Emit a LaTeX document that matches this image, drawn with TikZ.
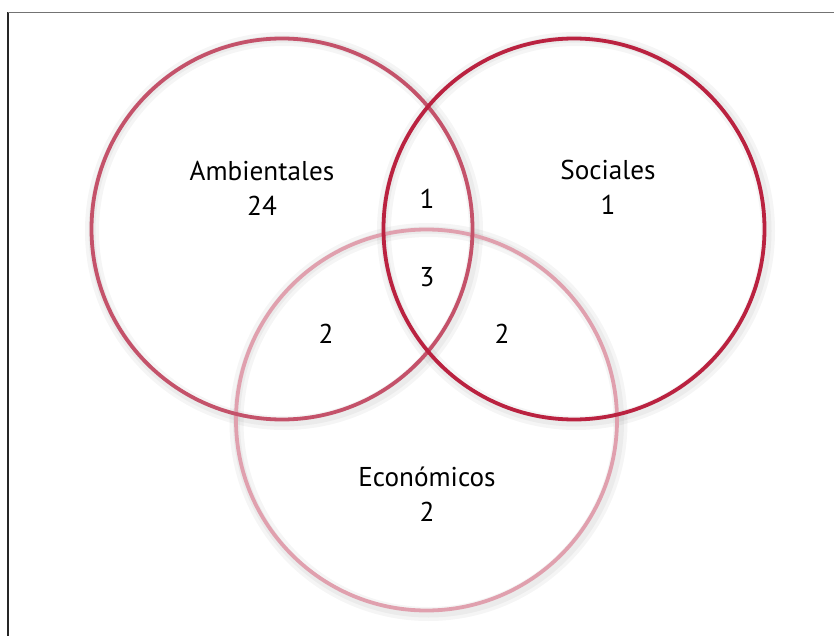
\documentclass[tikz,border=0pt]{standalone}
\usepackage{fontspec}
\setmainfont{PT Sans}
\usetikzlibrary{positioning}
\definecolor{ambred}{RGB}{196,82,106}
\definecolor{socred}{RGB}{186,34,64}
\definecolor{ecopink}{RGB}{224,160,174}
\tikzset{every picture/.style={/utils/exec={\fontsize{27.3}{35}\selectfont}}}

\begin{document}
\begin{tikzpicture}[x=1bp, y=-1bp]
  \tikzstyle{setcircle} = [circle, minimum size=381bp, inner sep=0pt, line width=3.8bp]
  \tikzstyle{shade} = [circle, minimum size=384bp, inner sep=0pt, draw=black, draw opacity=0.04, xshift=2bp, yshift=-2bp]
  \tikzstyle{label} = [align=center, inner sep=0pt]

  \useasboundingbox (0,0) rectangle (834,636);
  \fill[white] (0,0) rectangle (834,636);

  % frame, only left and top sides visible
  \coordinate (frametl) at (8,12.5);
  \coordinate (framebl) at (8,636);
  \coordinate (frametr) at (834,12.5);
  \draw [black!85, line width=1.3bp] (framebl) -- (frametl);
  \draw [black!55, line width=1.6bp] (frametl) -- (frametr);

  % soft shadows under the rings
  \foreach \pos/\tag in {{(426.5,420)}/eco, {(282,229)}/amb, {(574,229)}/soc} {
    \node (\tag wide) [shade, line width=14bp] at \pos {};
    \node (\tag narrow) [shade, line width=7bp] at \pos {};
  }

  \node (eco) [setcircle, draw=ecopink] at (426.5,420) {};
  \node (amb) [setcircle, draw=ambred] at (282,229) {};
  \node (soc) [setcircle, draw=socred] at (574,229) {};

  \node (ambtext) [label] at (262,188) {Ambientales\\24};
  \node (soctext) [label] at (608,187) {Sociales\\1};
  \node (ecotext) [label] at (427,494) {Económicos\\2};

  \node (ambsoc) [label] at (427,199) {1};
  \node (allthree) [label] at (427,277.5) {3};
  \node (ambeco) [label] at (326,334) {2};
  \node (soceco) [label] at (502,334) {2};
\end{tikzpicture}
\end{document}
